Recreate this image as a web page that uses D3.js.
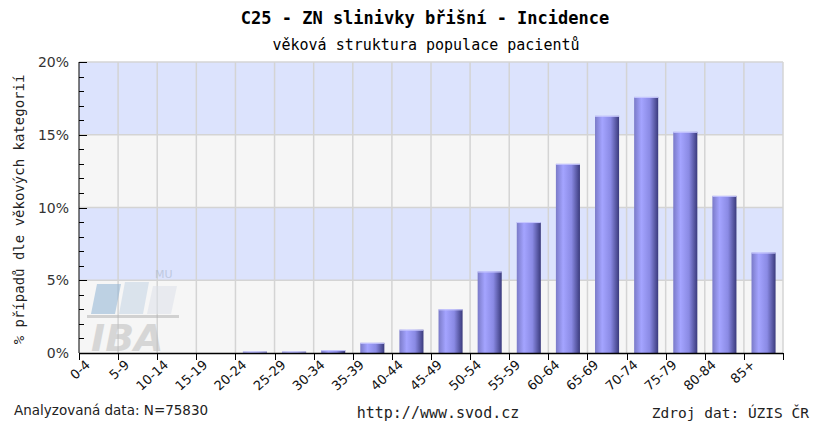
<!DOCTYPE html>
<html>
<head>
<meta charset="utf-8">
<script src="https://cdn.jsdelivr.net/npm/d3@7"></script>
<style>
  body { margin: 0; background: #fff; }
  svg { display: block; }
</style>
</head>
<body>
<svg id="chart" width="813" height="423"></svg>
<script>
var categories = ["0-4", "5-9", "10-14", "15-19", "20-24", "25-29", "30-34", "35-39", "40-44",
    "45-49", "50-54", "55-59", "60-64", "65-69", "70-74", "75-79", "80-84", "85+"];
var values = [0, 0, 0, 0, 0.1, 0.1, 0.2, 0.7, 1.6, 3.0, 5.6, 9.0, 13.0, 16.3, 17.6, 15.2, 10.8, 6.9];
var yTicks = [0, 5, 10, 15, 20];

var mono = "'DejaVu Sans Mono', 'Liberation Mono', monospace";
var sans = "'DejaVu Sans', Verdana, sans-serif";

var svg = d3.select("#chart");
var margin = { left: 79, right: 30, top: 62, bottom: 70 };
var W = 813, H = 423;
var width = W - margin.left - margin.right,
    height = H - margin.top - margin.bottom;

var x = d3.scaleBand().domain(categories).range([0, width]).paddingInner(0.385).paddingOuter(0.19);
var xEdge = d3.scaleLinear().domain([0, categories.length]).range([0, width]);
var y = d3.scaleLinear().domain([0, 20]).range([height, 0]);

var defs = svg.append("defs");
var grad = defs.append("linearGradient").attr("id", "barGrad")
    .attr("x1", "0%").attr("x2", "100%").attr("y1", "0%").attr("y2", "0%");
grad.append("stop").attr("offset", "0%").attr("stop-color", "#7a7ac8");
grad.append("stop").attr("offset", "30%").attr("stop-color", "#a4a4ff");
grad.append("stop").attr("offset", "65%").attr("stop-color", "#8a8ae4");
grad.append("stop").attr("offset", "100%").attr("stop-color", "#3a3a7c");

// titles
svg.append("text").attr("x", 425).attr("y", 24).attr("text-anchor", "middle")
    .style("font-family", mono).style("font-weight", "bold").style("font-size", "17px")
    .text("C25 - ZN slinivky břišní - Incidence");
svg.append("text").attr("x", 426).attr("y", 50).attr("text-anchor", "middle")
    .style("font-family", mono).style("font-size", "15px")
    .text("věková struktura populace pacientů");

var g = svg.append("g").attr("transform", "translate(" + margin.left + "," + margin.top + ")");

// background bands
var bands = [[15, 20, "#dce3fd"], [10, 15, "#f6f6f6"], [5, 10, "#dce3fd"], [0, 5, "#f6f6f6"]];
g.selectAll("rect.band").data(bands).enter().append("rect")
    .attr("class", "band")
    .attr("x", 0).attr("width", width)
    .attr("y", function (d) { return y(d[1]); })
    .attr("height", function (d) { return y(d[0]) - y(d[1]); })
    .attr("fill", function (d) { return d[2]; });

// horizontal grid
g.selectAll("line.hgrid").data(yTicks.slice(1)).enter().append("line")
    .attr("class", "hgrid")
    .attr("x1", 0).attr("x2", width)
    .attr("y1", y).attr("y2", y)
    .attr("stroke", "#d4d4d4").attr("stroke-width", 1.5);

// vertical grid
g.selectAll("line.vgrid").data(d3.range(1, categories.length + 1)).enter().append("line")
    .attr("class", "vgrid")
    .attr("x1", xEdge).attr("x2", xEdge)
    .attr("y1", 0).attr("y2", height)
    .attr("stroke", "#d4d4d4").attr("stroke-width", 1.5);

// IBA watermark
var wm = g.append("g").attr("opacity", 0.55);
wm.append("path").attr("d", "M18,222 L42,222 L36,252 L12,252 Z").attr("fill", "#8fb4d4");
wm.append("path").attr("d", "M46,220 L70,220 L64,252 L40,252 Z").attr("fill", "#c4d4e4");
wm.append("path").attr("d", "M74,224 L98,224 L92,252 L68,252 Z").attr("fill", "#dde2ea");
wm.append("rect").attr("x", 8).attr("y", 253).attr("width", 92).attr("height", 3).attr("fill", "#b4b4b4");
wm.append("text").attr("x", 12).attr("y", 289)
    .style("font-family", sans).style("font-size", "38px").style("font-weight", "bold")
    .style("font-style", "italic").attr("fill", "#bdbdbd").text("IBA");
wm.append("text").attr("x", 76).attr("y", 216)
    .style("font-family", sans).style("font-size", "11px").attr("fill", "#a8b4c8").text("MU");

// bars
var bars = g.selectAll("g.bar").data(values).enter().append("g").attr("class", "bar");
bars.append("rect")
    .attr("x", function (d, i) { return x(categories[i]); })
    .attr("width", x.bandwidth())
    .attr("y", function (d) { return y(d); })
    .attr("height", function (d) { return height - y(d); })
    .attr("fill", "url(#barGrad)");
bars.filter(function (d) { return d > 0; }).append("line")
    .attr("x1", function (d, i) { return x(categories[i + 4]); })
    .attr("x2", function (d, i) { return x(categories[i + 4]) + x.bandwidth(); })
    .attr("y1", function (d) { return y(d) + 0.5; })
    .attr("y2", function (d) { return y(d) + 0.5; })
    .attr("stroke", "#c8c8ff").attr("stroke-width", 1);

// y axis: minor ticks every 1%
g.append("line").attr("x1", 0).attr("x2", 0).attr("y1", 0).attr("y2", height)
    .attr("stroke", "#000");
g.selectAll("line.ytick").data(d3.range(0, 21)).enter().append("line")
    .attr("class", "ytick")
    .attr("x1", 0).attr("x2", function (d) { return d % 5 === 0 ? 8 : 5; })
    .attr("y1", function (d) { return Math.round(y(d)) + 0.5; })
    .attr("y2", function (d) { return Math.round(y(d)) + 0.5; })
    .attr("stroke", "#000");
g.selectAll("text.ylab").data(yTicks).enter().append("text")
    .attr("class", "ylab")
    .attr("x", -10).attr("y", function (d) { return y(d) + 5; })
    .attr("text-anchor", "end")
    .style("font-family", sans).style("font-size", "14px").attr("fill", "#333")
    .text(function (d) { return d + "%"; });

// x axis
g.append("line").attr("x1", 0).attr("x2", width).attr("y1", height + 0.5).attr("y2", height + 0.5)
    .attr("stroke", "#000").attr("stroke-width", 1.5);
g.selectAll("line.xtick").data(d3.range(0, categories.length + 1)).enter().append("line")
    .attr("class", "xtick")
    .attr("x1", function (d) { return Math.round(xEdge(d)) + 0.5; })
    .attr("x2", function (d) { return Math.round(xEdge(d)) + 0.5; })
    .attr("y1", height).attr("y2", height + 7)
    .attr("stroke", "#000");
g.selectAll("text.xlab").data(categories).enter().append("text")
    .attr("class", "xlab")
    .attr("text-anchor", "end")
    .attr("transform", function (d, i) {
        return "translate(" + (xEdge(i) + 12) + "," + (height + 13) + ") rotate(-42)";
    })
    .style("font-family", sans).style("font-size", "13px").attr("fill", "#111")
    .text(function (d) { return d; });

// y axis title
svg.append("text")
    .attr("transform", "translate(24," + (margin.top + height / 2 + 2) + ") rotate(-90)")
    .attr("text-anchor", "middle")
    .style("font-family", mono).style("font-size", "14px").attr("fill", "#222")
    .text("% případů dle věkových kategorií");

// footer
svg.append("text").attr("x", 14).attr("y", 415)
    .style("font-family", sans).style("font-size", "13.5px").attr("fill", "#222")
    .text("Analyzovaná data: N=75830");
svg.append("text").attr("x", 438).attr("y", 418).attr("text-anchor", "middle")
    .style("font-family", mono).style("font-size", "15px").attr("fill", "#222")
    .text("http://www.svod.cz");
svg.append("text").attr("x", 809).attr("y", 418).attr("text-anchor", "end")
    .style("font-family", mono).style("font-size", "14.5px").attr("fill", "#222")
    .text("Zdroj dat: ÚZIS ČR");
</script>
</body>
</html>
